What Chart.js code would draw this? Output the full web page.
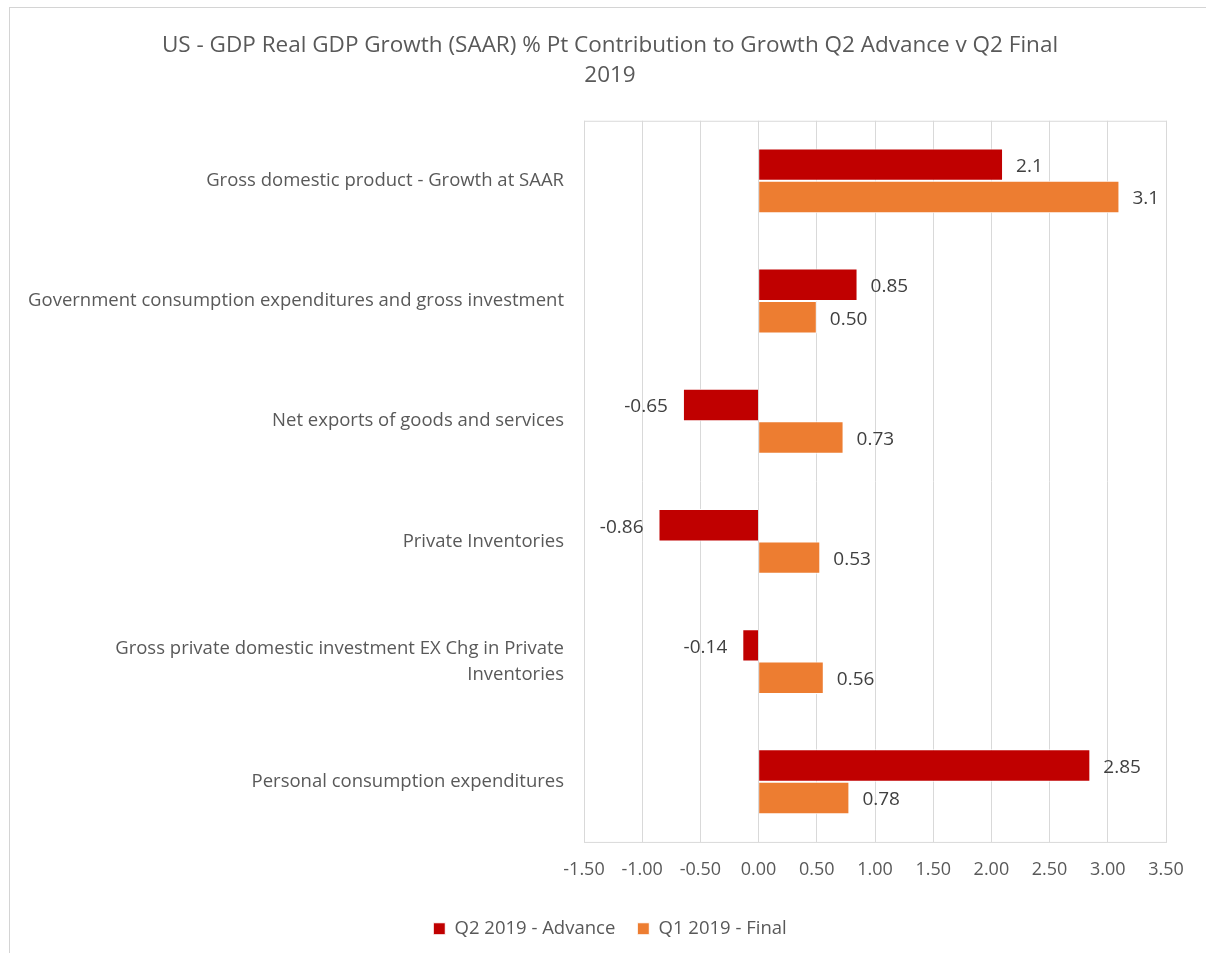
<!DOCTYPE html>
<html>
<head>
<meta charset="utf-8">
<script src="https://cdn.jsdelivr.net/npm/chart.js@4"></script>
<style>
    html, body { margin: 0; padding: 0; background: #fff; }
    #wrap { position: relative; width: 1206px; height: 953px; overflow: hidden; }
    #frame { position: absolute; left: 9px; top: 7px; width: 1300px; height: 1000px;
             border-left: 1px solid #d4d4d4; border-top: 1px solid #d4d4d4; }
    canvas { position: absolute; left: 0; top: 0; }
</style>
</head>
<body>
<div id="wrap">
    <div id="frame"></div>
    <canvas id="gdpChart" width="1206" height="953"></canvas>
</div>
<script>
// Categories, top to bottom
const categories = [
    'Gross domestic product - Growth at SAAR',
    'Government consumption expenditures and gross investment',
    'Net exports of goods and services',
    'Private Inventories',
    ['Gross private domestic investment EX Chg in Private', 'Inventories'],
    'Personal consumption expenditures'
];

// Series values
const q2Advance = [2.1, 0.85, -0.65, -0.86, -0.14, 2.85];
const q1Final = [3.1, 0.50, 0.73, 0.53, 0.56, 0.78];

// Data label text as shown on the chart
const q2Labels = ['2.1', '0.85', '-0.65', '-0.86', '-0.14', '2.85'];
const q1Labels = ['3.1', '0.50', '0.73', '0.53', '0.56', '0.78'];

// X axis ticks
const xTicks = [-1.5, -1.0, -0.5, 0, 0.5, 1.0, 1.5, 2.0, 2.5, 3.0, 3.5];

const FONT = "'Open Sans', sans-serif";
const TEXT = '#595959';

// Draws the value next to each bar end
const barValueLabels = {
    id: 'barValueLabels',
    afterDatasetsDraw(chart) {
        const ctx = chart.ctx;
        ctx.save();
        ctx.font = '19px ' + FONT;
        ctx.fillStyle = '#404040';
        ctx.textBaseline = 'middle';
        chart.data.datasets.forEach((ds, di) => {
            const meta = chart.getDatasetMeta(di);
            meta.data.forEach((bar, i) => {
                const v = ds.data[i];
                const txt = ds.valueLabels[i];
                if (v >= 0) {
                    ctx.textAlign = 'left';
                    ctx.fillText(txt, bar.x + 13, bar.y + 2);
                } else {
                    ctx.textAlign = 'right';
                    ctx.fillText(txt, bar.x - 15, bar.y + 2);
                }
            });
        });
        ctx.restore();
    }
};

// Light box round the plot area
const plotBorder = {
    id: 'plotBorder',
    afterLayout(chart) {
        // let the long category labels run into the left padding without clipping
        chart.scales.y.left = 0;
    },
    beforeDatasetsDraw(chart) {
        const a = chart.chartArea;
        const ctx = chart.ctx;
        ctx.save();
        ctx.strokeStyle = '#d9d9d9';
        ctx.lineWidth = 1;
        ctx.strokeRect(a.left + 0.5, a.top + 0.5, a.right - a.left, a.bottom - a.top);
        ctx.restore();
    }
};

new Chart(document.getElementById('gdpChart'), {
    type: 'bar',
    data: {
        labels: categories,
        datasets: [
            {
                label: 'Q2 2019 - Advance',
                data: q2Advance,
                valueLabels: q2Labels,
                backgroundColor: '#c00000',
                borderColor: '#ffffff',
                borderWidth: 1
            },
            {
                label: 'Q1 2019 - Final',
                data: q1Final,
                valueLabels: q1Labels,
                backgroundColor: '#ed7d31',
                borderColor: '#ffffff',
                borderWidth: 1
            }
        ]
    },
    options: {
        indexAxis: 'y',
        responsive: false,
        animation: false,
        categoryPercentage: 0.54,
        barPercentage: 1.0,
        layout: {
            padding: { left: 54, right: 40, top: 30, bottom: 5 }
        },
        plugins: {
            title: {
                display: true,
                text: ['US - GDP Real GDP Growth (SAAR) % Pt Contribution to Growth Q2 Advance v Q2 Final', '2019'],
                color: TEXT,
                font: { family: FONT, size: 22.5, weight: 'normal', lineHeight: 1.35 },
                padding: { top: 0, bottom: 30 }
            },
            legend: {
                position: 'bottom',
                labels: {
                    color: TEXT,
                    font: { family: FONT, size: 18.5 },
                    boxWidth: 12,
                    boxHeight: 12,
                    padding: 22
                }
            },
            tooltip: { enabled: false }
        },
        scales: {
            x: {
                min: -1.5,
                max: 3.5,
                afterBuildTicks(scale) {
                    scale.ticks = xTicks.map(v => ({ value: v }));
                },
                ticks: {
                    color: TEXT,
                    font: { family: FONT, size: 18 },
                    padding: 17,
                    callback: v => Number(v).toFixed(2)
                },
                grid: { color: '#d9d9d9', lineWidth: 1, drawTicks: false },
                border: { display: false }
            },
            y: {
                afterFit(scale) { scale.width = 530; },
                ticks: {
                    color: TEXT,
                    font: { family: FONT, size: 18.5, lineHeight: 1.4 },
                    padding: 20
                },
                grid: { display: false, drawTicks: false },
                border: { display: false }
            }
        }
    },
    plugins: [plotBorder, barValueLabels]
});
</script>
</body>
</html>
